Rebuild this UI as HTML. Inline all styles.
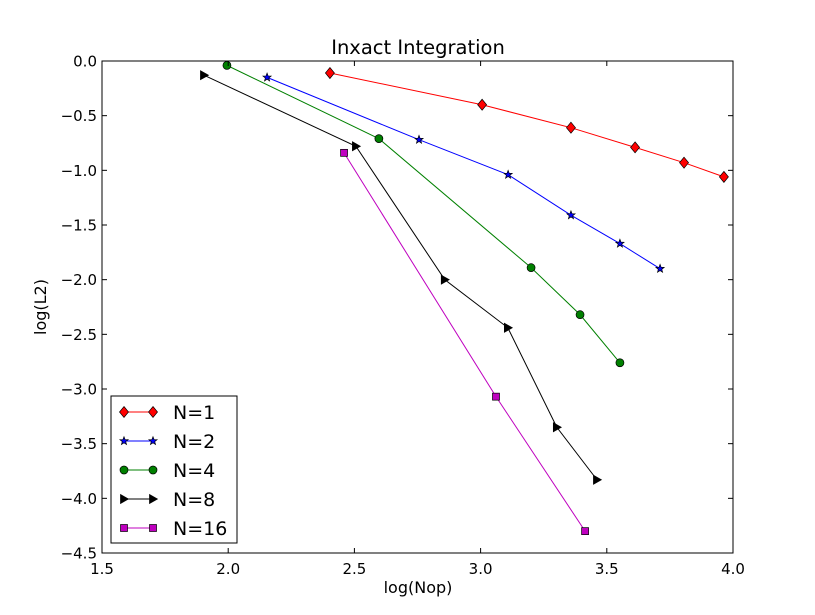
<!DOCTYPE html>
<html><head><meta charset="utf-8"><style>
html,body{margin:0;padding:0;background:#fff;}
svg{display:block;font-family:"DejaVu Sans","Liberation Sans",sans-serif;}
</style></head><body>
<svg id="chart" width="815" height="615" viewBox="0 0 815 615" xmlns="http://www.w3.org/2000/svg">
<rect width="815" height="615" fill="#fff"/>
<text x="418" y="54" font-size="19.5" text-anchor="middle">Inxact Integration</text>
<g id="plot"></g>
<rect x="102" y="61" width="631" height="492" fill="none" stroke="#000" stroke-width="1"/>
<g id="axes"></g>
<text x="418" y="593" font-size="16" text-anchor="middle">log(Nop)</text>
<text x="46" y="307" font-size="16" text-anchor="middle" transform="rotate(-90 46 307)">log(L2)</text>
<g id="legend"></g>
</svg>
<script>
const xTicks=[1.5,2.0,2.5,3.0,3.5,4.0];
const yTicks=[0.0,-0.5,-1.0,-1.5,-2.0,-2.5,-3.0,-3.5,-4.0,-4.5];
const seriesNames=["N=1","N=2","N=4","N=8","N=16"];
const x1=[2.403,3.006,3.358,3.612,3.806,3.964];
const y1=[-0.11,-0.40,-0.61,-0.79,-0.93,-1.06];
const x2=[2.154,2.756,3.109,3.358,3.552,3.711];
const y2=[-0.15,-0.72,-1.04,-1.41,-1.67,-1.90];
const x4=[1.995,2.597,3.20,3.394,3.552];
const y4=[-0.04,-0.71,-1.89,-2.32,-2.76];
const x8=[1.904,2.506,2.858,3.108,3.302,3.461];
const y8=[-0.13,-0.78,-2.00,-2.44,-3.35,-3.83];
const x16=[2.459,3.061,3.414];
const y16=[-0.84,-3.07,-4.30];
const NS="http://www.w3.org/2000/svg";
const L=102,R=733,T=61,B=553;
const sx=v=>L+(v-1.5)/2.5*(R-L);
const sy=v=>T+(0-v)/4.5*(B-T);
const styles=[
 {c:"#ff0000",m:"diamond",xs:x1,ys:y1},
 {c:"#0000ff",m:"star",xs:x2,ys:y2},
 {c:"#008000",m:"circle",xs:x4,ys:y4},
 {c:"#000000",m:"tri",xs:x8,ys:y8},
 {c:"#bf00bf",m:"square",xs:x16,ys:y16}];
function el(t,a,p){const e=document.createElementNS(NS,t);for(const k in a)e.setAttribute(k,a[k]);p.appendChild(e);return e;}
function marker(type,x,y,c,p){
 let e;
 if(type==="diamond")e=el("polygon",{points:`${x},${y-5.5} ${x+4.5},${y} ${x},${y+5.5} ${x-4.5},${y}`},p);
 else if(type==="circle")e=el("circle",{cx:x,cy:y,r:4},p);
 else if(type==="square")e=el("rect",{x:x-3.5,y:y-3.5,width:7,height:7},p);
 else if(type==="tri")e=el("polygon",{points:`${x+4.5},${y} ${x-3.5},${y-4.5} ${x-3.5},${y+4.5}`},p);
 else{let pts=[];for(let i=0;i<10;i++){const r=i%2?1.8:4.3,a=-Math.PI/2+i*Math.PI/5;pts.push((x+r*Math.cos(a)).toFixed(2)+","+(y+r*Math.sin(a)).toFixed(2));}e=el("polygon",{points:pts.join(" ")},p);}
 e.setAttribute("fill",c);e.setAttribute("stroke","#000");e.setAttribute("stroke-width","0.7");
 return e;
}
const plot=document.getElementById("plot");
styles.forEach((s,k)=>{
 const g=el("g",{},plot);
 
 
 const ln=el("polyline",{points:s.xs.map((v,i)=>sx(v)+","+sy(s.ys[i])).join(" "),fill:"none",stroke:s.c,"stroke-width":1},g);
 
 
 s.xs.forEach((v,i)=>{const m=marker(s.m,sx(v),sy(s.ys[i]),s.c,g);
  
  });
});
const axes=document.getElementById("axes");
xTicks.forEach(v=>{const x=sx(v);
 el("line",{x1:x,x2:x,y1:B,y2:B-5,stroke:"#000"},axes);el("line",{x1:x,x2:x,y1:T,y2:T+5,stroke:"#000"},axes);
 const t=el("text",{x:x,y:B+21,"font-size":15,"text-anchor":"middle"},axes);t.textContent=v.toFixed(1);
 
 });
yTicks.forEach(v=>{const y=sy(v);
 el("line",{x1:L,x2:L+5,y1:y,y2:y,stroke:"#000"},axes);el("line",{x1:R,x2:R-5,y1:y,y2:y,stroke:"#000"},axes);
 const t=el("text",{x:L-5,y:y+5.5,"font-size":15,"text-anchor":"end"},axes);t.textContent=(v===0?"0.0":"\u2212"+Math.abs(v).toFixed(1));
 
 });
const lg=document.getElementById("legend");


el("rect",{x:111,y:396,width:126,height:147,fill:"#fff",stroke:"#000"},lg);
styles.forEach((s,k)=>{const y=412+k*29;
 const g=el("g",{},lg);
 
 
 el("line",{x1:124,x2:153,y1:y,y2:y,stroke:s.c},g);
 marker(s.m,124,y,s.c,g);marker(s.m,153,y,s.c,g);
 const t=el("text",{x:173,y:y+7,"font-size":19},g);t.textContent=seriesNames[k];});
</script>
</body></html>
